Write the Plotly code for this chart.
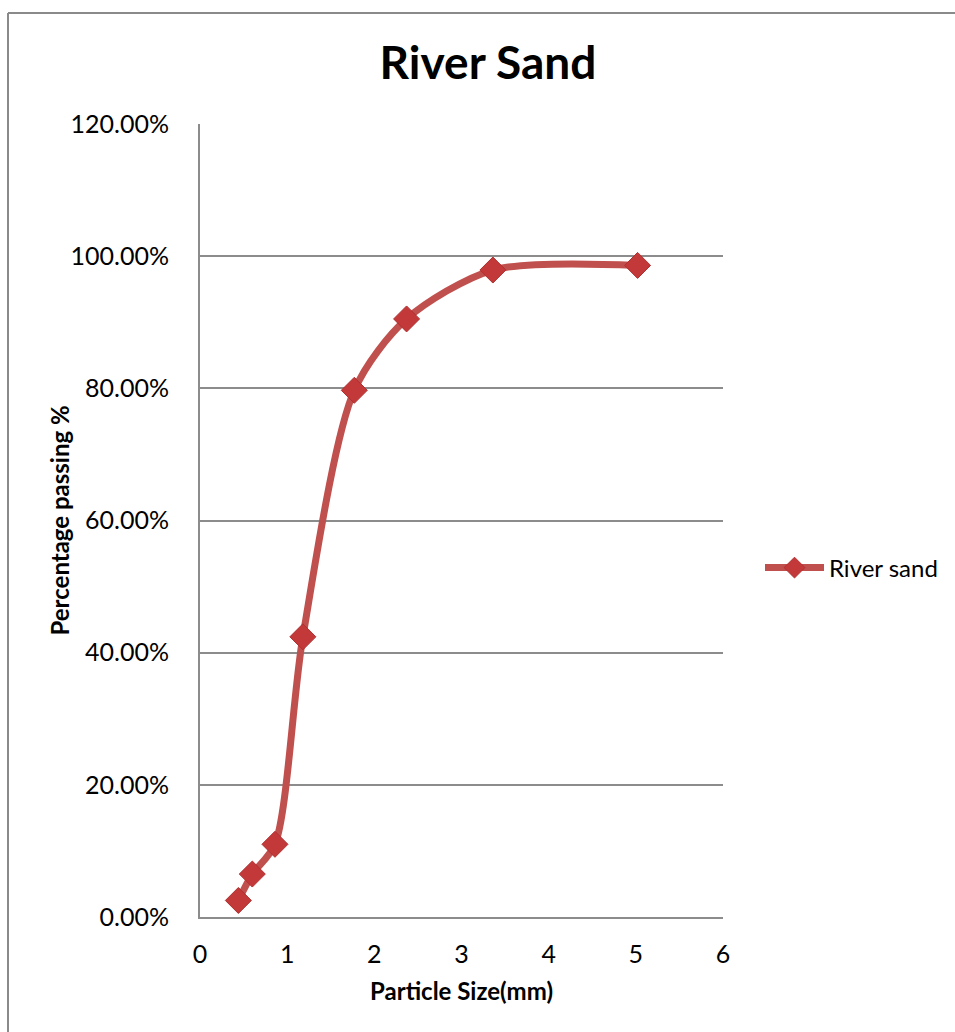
import plotly.graph_objects as go

# Sieve analysis of river sand
particle_size_mm = [0.44, 0.60, 0.86, 1.18, 1.77, 2.37, 3.36, 5.02]
percent_passing = [0.025, 0.065, 0.110, 0.424, 0.797, 0.905, 0.979, 0.986]
series_name = "River sand"

x_ticks = [0, 1, 2, 3, 4, 5, 6]
y_ticks = [0, 0.2, 0.4, 0.6, 0.8, 1.0, 1.2]

FONT = "Lato, Carlito, Calibri, sans-serif"
LINE_RED = "#C0504D"
MARKER_RED = "#C3393A"
GRID = "#8C8C8C"

W, H = 955, 1032
L, R, T, B = 200, 232, 124, 115
plot_w = W - L - R
plot_h = H - T - B

fig = go.Figure()
fig.add_trace(go.Scatter(
    x=particle_size_mm,
    y=percent_passing,
    mode="lines+markers",
    name=series_name,
    line=dict(color=LINE_RED, width=7, shape="spline", smoothing=0.8),
    marker=dict(symbol="diamond", size=20, color=MARKER_RED,
                line=dict(color="#B02F2F", width=1)),
))


def px_x(px):
    return (px - L) / plot_w


def px_y(py):
    return (H - B - py) / plot_h


# Chart-area frame (left and top edges)
fig.add_shape(type="line", xref="paper", yref="paper",
              x0=px_x(8), x1=px_x(8), y0=px_y(1040), y1=px_y(13),
              line=dict(color="#8A8A8A", width=2))
fig.add_shape(type="line", xref="paper", yref="paper",
              x0=px_x(8), x1=px_x(960), y0=px_y(13), y1=px_y(13),
              line=dict(color="#8A8A8A", width=2))

# Vertical axis title
fig.add_annotation(text="<b>Percentage passing %</b>", xref="paper", yref="paper",
                   x=px_x(59), y=0.5, xanchor="center", yanchor="middle",
                   textangle=-90, showarrow=False,
                   font=dict(size=24, family=FONT, color="black"))

fig.update_layout(
    width=W, height=H,
    margin=dict(l=L, r=R, t=T, b=B, autoexpand=False),
    paper_bgcolor="white",
    plot_bgcolor="white",
    font=dict(family=FONT, color="black"),
    title=dict(text="<b>River Sand</b>", x=488 / W, xref="container",
               xanchor="center", y=1 - 63 / H, yref="container",
               yanchor="middle", font=dict(size=46, family=FONT)),
    showlegend=True,
    legend=dict(x=px_x(760), xanchor="left", y=px_y(568), yanchor="middle",
                font=dict(size=24, family=FONT), itemwidth=59,
                bgcolor="rgba(0,0,0,0)"),
    xaxis=dict(range=[0, 6], tickvals=x_ticks, ticktext=[str(v) for v in x_ticks],
               showgrid=False, zeroline=False, showline=True,
               linecolor=GRID, linewidth=2, ticks="",
               ticklabelstandoff=14,
               tickfont=dict(size=25, family=FONT),
               title=dict(text="<b>Particle Size(mm)</b>",
                          font=dict(size=24, family=FONT), standoff=16)),
    yaxis=dict(range=[0, 1.2], tickvals=y_ticks, tickformat=".2%",
               showgrid=True, gridcolor=GRID, gridwidth=1.5,
               zeroline=False, showline=True, linecolor=GRID, linewidth=2,
               ticks="", ticklen=0, ticklabelstandoff=24,
               tickfont=dict(size=25, family=FONT)),
)

fig.write_html("out.html")
